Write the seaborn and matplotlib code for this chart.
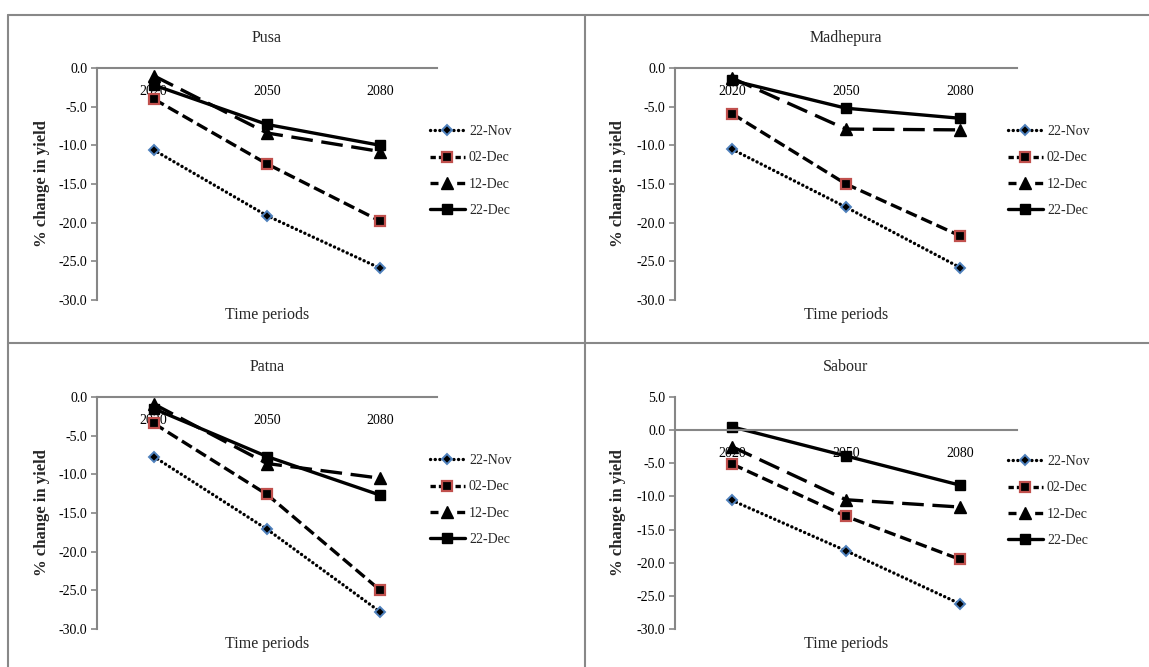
import numpy as np
import pandas as pd
import matplotlib
matplotlib.use("Agg")
import matplotlib.pyplot as plt
import seaborn as sns
from matplotlib.lines import Line2D
from matplotlib.ticker import FixedLocator, FuncFormatter

# ---------------- data ----------------
periods = ["2020", "2050", "2080"]
sowing_dates = ["22-Nov", "02-Dec", "12-Dec", "22-Dec"]
locations = ["Pusa", "Madhepura", "Patna", "Sabour"]

pusa_nov22 = [-10.6, -19.1, -25.9]
pusa_dec02 = [-4.0, -12.4, -19.8]
pusa_dec12 = [-1.0, -8.4, -10.8]
pusa_dec22 = [-2.2, -7.3, -10.0]

madhepura_nov22 = [-10.5, -18.0, -25.8]
madhepura_dec02 = [-5.9, -15.0, -21.7]
madhepura_dec12 = [-1.3, -7.9, -8.0]
madhepura_dec22 = [-1.6, -5.2, -6.5]

patna_nov22 = [-7.7, -17.1, -27.8]
patna_dec02 = [-3.4, -12.6, -25.0]
patna_dec12 = [-0.9, -8.6, -10.5]
patna_dec22 = [-1.5, -7.7, -12.7]

sabour_nov22 = [-10.6, -18.2, -26.2]
sabour_dec02 = [-5.1, -13.0, -19.5]
sabour_dec12 = [-2.5, -10.5, -11.6]
sabour_dec22 = [0.5, -3.9, -8.3]

series_by_location = {
    "Pusa": [pusa_nov22, pusa_dec02, pusa_dec12, pusa_dec22],
    "Madhepura": [madhepura_nov22, madhepura_dec02, madhepura_dec12, madhepura_dec22],
    "Patna": [patna_nov22, patna_dec02, patna_dec12, patna_dec22],
    "Sabour": [sabour_nov22, sabour_dec02, sabour_dec12, sabour_dec22],
}
y_top = {"Pusa": 0, "Madhepura": 0, "Patna": 0, "Sabour": 5}
y_bottom = -30
y_step = 5

rows = []
for loc in locations:
    for sd, vals in zip(sowing_dates, series_by_location[loc]):
        for i, (p, v) in enumerate(zip(periods, vals)):
            rows.append({"location": loc, "sowing": sd, "period": p, "pos": i, "change": v})
df = pd.DataFrame(rows)

# ---------------- style ----------------
sns.set_theme(style="white")
plt.rcParams["font.family"] = ["Liberation Serif", "DejaVu Serif"]
plt.rcParams["axes.unicode_minus"] = False

W, H = 1149, 667
fig = plt.figure(figsize=(W / 100, H / 100), dpi=100)
fig.patch.set_facecolor("white")

GRAY = "#868686"
LW = 2.4

styles = {
    "22-Nov": dict(marker="D", markersize=5.5, markerfacecolor="black",
                   markeredgecolor="#4F81BD", markeredgewidth=1.4,
                   linestyle=(0, (0.05, 1.35)), dash_capstyle="round"),
    "02-Dec": dict(marker="s", markersize=7, markerfacecolor="black",
                   markeredgecolor="#C0504D", markeredgewidth=1.6,
                   linestyle=(0, (3.5, 1.5))),
    "12-Dec": dict(marker="^", markersize=8, markerfacecolor="black",
                   markeredgecolor="black", markeredgewidth=1.0,
                   linestyle=(0, (6.5, 2.6))),
    "22-Dec": dict(marker="s", markersize=7, markerfacecolor="black",
                   markeredgecolor="black", markeredgewidth=1.0,
                   linestyle="-"),
}
legend_linestyle = {
    "22-Nov": (0, (0.05, 1.35)),
    "02-Dec": (0, (1.6, 0.9)),
    "12-Dec": (0, (2.4, 5.6)),
    "22-Dec": "-",
}

def fx(px):
    return px / W

def fy(py):
    return 1 - py / H

# axes boxes in pixels: left, right, top, bottom
boxes = {
    "Pusa": (97, 437, 68, 300),
    "Madhepura": (675, 1017, 68, 300),
    "Patna": (97, 437, 397, 629),
    "Sabour": (675, 1017, 397, 629),
}
legend_anchor = {
    "Pusa": (430, 171),
    "Madhepura": (1008, 171),
    "Patna": (430, 500),
    "Sabour": (1008, 501),
}

for loc in locations:
    l, r, t, b = boxes[loc]
    ax = fig.add_axes([fx(l), fy(b), fx(r) - fx(l), (b - t) / H])
    ax.set_facecolor("white")
    sub = df[df["location"] == loc]
    for sd in sowing_dates:
        d = sub[sub["sowing"] == sd]
        sns.lineplot(data=d, x="pos", y="change", ax=ax, color="black",
                     linewidth=LW, errorbar=None, label=sd, **styles[sd])

    ax.set_xlim(-0.5, len(periods) - 0.5)
    ax.set_ylim(y_bottom, y_top[loc])
    ax.xaxis.set_major_locator(FixedLocator(range(len(periods))))
    ax.set_xticklabels(periods)
    ax.yaxis.set_major_locator(FixedLocator(np.arange(y_bottom, y_top[loc] + 0.1, y_step)))
    ax.yaxis.set_major_formatter(FuncFormatter(lambda v, p: f"{v:.1f}"))

    for s in ["top", "right"]:
        ax.spines[s].set_visible(False)
    ax.spines["bottom"].set_position(("data", 0))
    for s in ["left", "bottom"]:
        ax.spines[s].set_color(GRAY)
        ax.spines[s].set_linewidth(1.5)
    ax.tick_params(axis="x", length=0, pad=12, labelsize=10, colors="black")
    ax.tick_params(axis="y", length=4, width=1.2, color=GRAY, pad=3,
                   labelsize=10, labelcolor="black", left=True, direction="out")

    ax.set_xlabel("Time periods", fontsize=11.5)
    ax.xaxis.label.set_va("center")
    ax.xaxis.set_label_coords(0.5, -15 / (b - t))
    ax.set_ylabel("% change in yield", fontsize=12, fontweight="bold")
    ax.yaxis.label.set_va("center")
    ax.yaxis.set_label_coords(-(l - (42 if l < 500 else 618)) / (r - l), 0.5)
    ax.set_title(loc, fontsize=11.5, y=1 + 30 / (b - t), pad=0, va="center")

    ax.get_legend().remove()
    handles = []
    for sd in sowing_dates:
        st = dict(styles[sd])
        st["linestyle"] = legend_linestyle[sd]
        handles.append(Line2D([0], [0], color="black", linewidth=LW, **st))
    lx, ly = legend_anchor[loc]
    fig.legend(handles, sowing_dates, loc="center left",
               bbox_to_anchor=(fx(lx), fy(ly)), frameon=False, fontsize=10,
               handlelength=2.5, handletextpad=0.3, labelspacing=0.95,
               borderpad=0, borderaxespad=0)

# panel borders
border = dict(color="#888888", linewidth=1.5, transform=fig.transFigure)
fig.add_artist(Line2D([fx(8), 1], [fy(15), fy(15)], **border))
fig.add_artist(Line2D([fx(8), 1], [fy(343), fy(343)], **border))
fig.add_artist(Line2D([fx(8), fx(8)], [fy(15), 0], **border))
fig.add_artist(Line2D([fx(585), fx(585)], [fy(15), 0], **border))

fig.savefig("out.png", dpi=100, facecolor="white")
